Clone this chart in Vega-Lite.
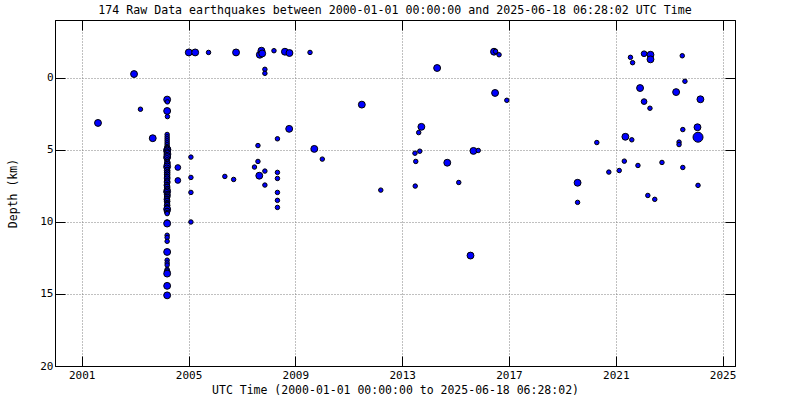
{
  "$schema": "https://vega.github.io/schema/vega-lite/v6.json",
  "width": 680,
  "height": 346,
  "autosize": {"type": "none"},
  "padding": {"left": 55, "top": 20, "right": 65, "bottom": 29},
  "background": "white",
  "title": {
    "text": "174 Raw Data earthquakes between 2000-01-01 00:00:00 and 2025-06-18 06:28:02 UTC Time",
    "font": "DejaVu Sans Mono",
    "fontSize": 11.6,
    "fontWeight": "normal",
    "color": "black",
    "anchor": "middle",
    "offset": 3
  },
  "config": {
    "view": {"stroke": "black", "strokeWidth": 1},
    "axis": {
      "labelFont": "DejaVu Sans Mono",
      "titleFont": "DejaVu Sans Mono",
      "labelFontSize": 11,
      "titleFontSize": 11.5,
      "titleFontWeight": "normal",
      "labelColor": "black",
      "titleColor": "black",
      "domainColor": "black",
      "tickColor": "black",
      "tickWidth": 1,
      "tickSize": -10,
      "gridColor": "#808080",
      "gridDash": [1, 2],
      "gridOpacity": 1
    }
  },
  "data": {
    "values": [
      {"year": 2001.61, "depth": 3.14, "mag": 1.9},
      {"year": 2002.96, "depth": -0.25, "mag": 1.9},
      {"year": 2003.2, "depth": 2.19, "mag": 0.8},
      {"year": 2003.66, "depth": 4.2, "mag": 1.9},
      {"year": 2004.2, "depth": 1.52, "mag": 1.9},
      {"year": 2004.21, "depth": 1.68, "mag": 0.8},
      {"year": 2004.2, "depth": 2.31, "mag": 1.9},
      {"year": 2004.21, "depth": 2.7, "mag": 0.8},
      {"year": 2004.2, "depth": 3.94, "mag": 0.8},
      {"year": 2004.2, "depth": 4.1, "mag": 0.8},
      {"year": 2004.2, "depth": 4.24, "mag": 0.8},
      {"year": 2004.2, "depth": 4.38, "mag": 0.8},
      {"year": 2004.2, "depth": 4.52, "mag": 0.8},
      {"year": 2004.2, "depth": 4.65, "mag": 0.8},
      {"year": 2004.2, "depth": 4.78, "mag": 0.8},
      {"year": 2004.2, "depth": 4.9, "mag": 1.3},
      {"year": 2004.21, "depth": 4.98, "mag": 1.9},
      {"year": 2004.2, "depth": 5.05, "mag": 1.9},
      {"year": 2004.19, "depth": 5.12, "mag": 1.3},
      {"year": 2004.2, "depth": 5.2, "mag": 1.3},
      {"year": 2004.21, "depth": 5.3, "mag": 1.9},
      {"year": 2004.2, "depth": 5.38, "mag": 1.3},
      {"year": 2004.2, "depth": 5.45, "mag": 0.8},
      {"year": 2004.2, "depth": 5.51, "mag": 1.9},
      {"year": 2004.19, "depth": 5.6, "mag": 1.3},
      {"year": 2004.2, "depth": 5.7, "mag": 0.8},
      {"year": 2004.2, "depth": 5.81, "mag": 0.8},
      {"year": 2004.21, "depth": 5.9, "mag": 1.3},
      {"year": 2004.2, "depth": 6.0, "mag": 1.3},
      {"year": 2004.2, "depth": 6.08, "mag": 0.8},
      {"year": 2004.2, "depth": 6.16, "mag": 1.9},
      {"year": 2004.19, "depth": 6.25, "mag": 1.3},
      {"year": 2004.2, "depth": 6.35, "mag": 0.8},
      {"year": 2004.2, "depth": 6.44, "mag": 1.3},
      {"year": 2004.21, "depth": 6.52, "mag": 0.8},
      {"year": 2004.2, "depth": 6.6, "mag": 1.3},
      {"year": 2004.2, "depth": 6.68, "mag": 0.8},
      {"year": 2004.2, "depth": 6.74, "mag": 1.3},
      {"year": 2004.19, "depth": 6.82, "mag": 0.8},
      {"year": 2004.2, "depth": 6.9, "mag": 1.3},
      {"year": 2004.2, "depth": 7.01, "mag": 1.3},
      {"year": 2004.21, "depth": 7.1, "mag": 0.8},
      {"year": 2004.2, "depth": 7.2, "mag": 1.3},
      {"year": 2004.2, "depth": 7.29, "mag": 1.3},
      {"year": 2004.2, "depth": 7.38, "mag": 0.8},
      {"year": 2004.19, "depth": 7.46, "mag": 1.3},
      {"year": 2004.2, "depth": 7.52, "mag": 0.8},
      {"year": 2004.2, "depth": 7.59, "mag": 1.3},
      {"year": 2004.21, "depth": 7.68, "mag": 0.8},
      {"year": 2004.2, "depth": 7.75, "mag": 1.3},
      {"year": 2004.2, "depth": 7.82, "mag": 0.8},
      {"year": 2004.2, "depth": 7.89, "mag": 1.9},
      {"year": 2004.19, "depth": 7.95, "mag": 1.3},
      {"year": 2004.2, "depth": 8.03, "mag": 0.8},
      {"year": 2004.2, "depth": 8.1, "mag": 1.3},
      {"year": 2004.21, "depth": 8.17, "mag": 1.3},
      {"year": 2004.2, "depth": 8.22, "mag": 0.8},
      {"year": 2004.2, "depth": 8.28, "mag": 1.3},
      {"year": 2004.2, "depth": 8.35, "mag": 0.8},
      {"year": 2004.19, "depth": 8.44, "mag": 1.3},
      {"year": 2004.2, "depth": 8.5, "mag": 0.8},
      {"year": 2004.2, "depth": 8.58, "mag": 1.3},
      {"year": 2004.2, "depth": 8.66, "mag": 0.8},
      {"year": 2004.21, "depth": 8.74, "mag": 0.8},
      {"year": 2004.2, "depth": 8.8, "mag": 0.8},
      {"year": 2004.2, "depth": 8.86, "mag": 1.3},
      {"year": 2004.2, "depth": 8.95, "mag": 0.8},
      {"year": 2004.2, "depth": 9.02, "mag": 0.8},
      {"year": 2004.2, "depth": 9.08, "mag": 1.3},
      {"year": 2004.2, "depth": 9.13, "mag": 1.9},
      {"year": 2004.2, "depth": 9.2, "mag": 0.8},
      {"year": 2004.2, "depth": 9.27, "mag": 1.3},
      {"year": 2004.2, "depth": 9.35, "mag": 0.8},
      {"year": 2004.2, "depth": 9.43, "mag": 0.8},
      {"year": 2004.2, "depth": 10.05, "mag": 1.3},
      {"year": 2004.2, "depth": 10.12, "mag": 1.9},
      {"year": 2004.2, "depth": 10.93, "mag": 0.8},
      {"year": 2004.2, "depth": 11.09, "mag": 0.8},
      {"year": 2004.2, "depth": 11.35, "mag": 0.8},
      {"year": 2004.2, "depth": 12.09, "mag": 1.9},
      {"year": 2004.2, "depth": 12.66, "mag": 0.8},
      {"year": 2004.2, "depth": 12.85, "mag": 0.8},
      {"year": 2004.2, "depth": 13.0, "mag": 0.8},
      {"year": 2004.2, "depth": 13.3, "mag": 0.8},
      {"year": 2004.2, "depth": 13.45, "mag": 1.3},
      {"year": 2004.2, "depth": 13.59, "mag": 1.9},
      {"year": 2004.2, "depth": 14.44, "mag": 1.9},
      {"year": 2004.2, "depth": 15.1, "mag": 1.9},
      {"year": 2004.6, "depth": 6.23, "mag": 1.3},
      {"year": 2004.6, "depth": 7.13, "mag": 1.3},
      {"year": 2005.01, "depth": -1.75, "mag": 1.9},
      {"year": 2005.09, "depth": 5.51, "mag": 0.8},
      {"year": 2005.09, "depth": 6.92, "mag": 0.8},
      {"year": 2005.09, "depth": 7.96, "mag": 0.8},
      {"year": 2005.09, "depth": 10.01, "mag": 0.8},
      {"year": 2005.25, "depth": -1.75, "mag": 1.9},
      {"year": 2005.75, "depth": -1.75, "mag": 0.8},
      {"year": 2006.36, "depth": 6.85, "mag": 0.8},
      {"year": 2006.69, "depth": 7.06, "mag": 0.8},
      {"year": 2006.78, "depth": -1.75, "mag": 1.9},
      {"year": 2007.47, "depth": 6.2, "mag": 0.8},
      {"year": 2007.6, "depth": 4.71, "mag": 0.8},
      {"year": 2007.6, "depth": 5.81, "mag": 0.8},
      {"year": 2007.65, "depth": 6.8, "mag": 1.9},
      {"year": 2007.67, "depth": -1.59, "mag": 1.9},
      {"year": 2007.73, "depth": -1.87, "mag": 1.9},
      {"year": 2007.76, "depth": -1.68, "mag": 1.9},
      {"year": 2007.86, "depth": -0.58, "mag": 0.8},
      {"year": 2007.86, "depth": -0.3, "mag": 0.8},
      {"year": 2007.86, "depth": 6.48, "mag": 0.8},
      {"year": 2007.86, "depth": 7.45, "mag": 0.8},
      {"year": 2008.2, "depth": -1.87, "mag": 0.8},
      {"year": 2008.33, "depth": 4.24, "mag": 0.8},
      {"year": 2008.33, "depth": 6.57, "mag": 0.8},
      {"year": 2008.33, "depth": 6.99, "mag": 0.8},
      {"year": 2008.33, "depth": 7.96, "mag": 0.8},
      {"year": 2008.33, "depth": 8.51, "mag": 0.8},
      {"year": 2008.33, "depth": 9.0, "mag": 0.8},
      {"year": 2008.61, "depth": -1.8, "mag": 1.9},
      {"year": 2008.77, "depth": 3.55, "mag": 1.9},
      {"year": 2008.78, "depth": -1.71, "mag": 1.9},
      {"year": 2009.55, "depth": -1.75, "mag": 0.8},
      {"year": 2009.71, "depth": 4.94, "mag": 1.9},
      {"year": 2010.01, "depth": 5.65, "mag": 0.8},
      {"year": 2011.49, "depth": 1.87, "mag": 1.9},
      {"year": 2012.2, "depth": 7.8, "mag": 0.8},
      {"year": 2013.48, "depth": 5.24, "mag": 0.8},
      {"year": 2013.49, "depth": 7.52, "mag": 0.8},
      {"year": 2013.51, "depth": 5.81, "mag": 0.8},
      {"year": 2013.62, "depth": 3.81, "mag": 0.8},
      {"year": 2013.66, "depth": 5.1, "mag": 0.8},
      {"year": 2013.72, "depth": 3.41, "mag": 1.9},
      {"year": 2014.31, "depth": -0.67, "mag": 1.9},
      {"year": 2014.69, "depth": 5.9, "mag": 1.9},
      {"year": 2015.12, "depth": 7.27, "mag": 0.8},
      {"year": 2015.56, "depth": 12.34, "mag": 1.9},
      {"year": 2015.67, "depth": 5.08, "mag": 1.9},
      {"year": 2015.85, "depth": 5.05, "mag": 0.8},
      {"year": 2016.44, "depth": -1.8, "mag": 1.9},
      {"year": 2016.5, "depth": -1.82, "mag": 0.8},
      {"year": 2016.63, "depth": -1.59, "mag": 0.8},
      {"year": 2016.48, "depth": 1.06, "mag": 1.9},
      {"year": 2016.92, "depth": 1.57, "mag": 0.8},
      {"year": 2019.57, "depth": 7.29, "mag": 1.9},
      {"year": 2019.57, "depth": 8.65, "mag": 0.8},
      {"year": 2020.29, "depth": 4.5, "mag": 0.8},
      {"year": 2020.74, "depth": 6.55, "mag": 0.8},
      {"year": 2021.13, "depth": 6.44, "mag": 0.8},
      {"year": 2021.32, "depth": 5.79, "mag": 0.8},
      {"year": 2021.36, "depth": 4.1, "mag": 1.9},
      {"year": 2021.55, "depth": -1.41, "mag": 0.8},
      {"year": 2021.6, "depth": 4.31, "mag": 0.8},
      {"year": 2021.63, "depth": -1.04, "mag": 0.8},
      {"year": 2021.83, "depth": 6.09, "mag": 0.8},
      {"year": 2021.91, "depth": 0.72, "mag": 1.9},
      {"year": 2022.06, "depth": -1.66, "mag": 1.3},
      {"year": 2022.06, "depth": 1.66, "mag": 1.3},
      {"year": 2022.2, "depth": 8.17, "mag": 0.8},
      {"year": 2022.28, "depth": 2.12, "mag": 0.8},
      {"year": 2022.3, "depth": -1.59, "mag": 1.9},
      {"year": 2022.3, "depth": -1.27, "mag": 1.9},
      {"year": 2022.46, "depth": 8.44, "mag": 0.8},
      {"year": 2022.73, "depth": 5.88, "mag": 0.8},
      {"year": 2023.26, "depth": 1.0, "mag": 1.9},
      {"year": 2023.37, "depth": 4.47, "mag": 0.8},
      {"year": 2023.37, "depth": 4.64, "mag": 0.8},
      {"year": 2023.49, "depth": -1.52, "mag": 0.8},
      {"year": 2023.51, "depth": 3.6, "mag": 0.8},
      {"year": 2023.51, "depth": 6.23, "mag": 0.8},
      {"year": 2023.59, "depth": 0.25, "mag": 0.8},
      {"year": 2024.06, "depth": 3.44, "mag": 1.9},
      {"year": 2024.08, "depth": 4.13, "mag": 4.0},
      {"year": 2024.08, "depth": 7.47, "mag": 0.8},
      {"year": 2024.17, "depth": 1.5, "mag": 1.9}
    ]
  },
  "layer": [
    {
      "mark": {"type": "point", "shape": "circle", "filled": true, "fill": "#0000ff", "stroke": "black", "strokeWidth": 1, "opacity": 1, "fillOpacity": 1, "strokeOpacity": 1},
      "encoding": {
        "x": {
          "field": "year", "type": "quantitative",
          "scale": {"domain": [2000, 2025.465], "nice": false, "zero": false},
          "axis": {"orient": "bottom", "values": [2001, 2005, 2009, 2013, 2017, 2021, 2025], "format": "d", "grid": true, "labelPadding": 13, "title": "UTC Time (2000-01-01 00:00:00 to 2025-06-18 06:28:02)", "titleY": 24, "titleBaseline": "middle"}
        },
        "y": {
          "field": "depth", "type": "quantitative",
          "scale": {"domain": [-4, 20], "reverse": true, "nice": false, "zero": false},
          "axis": {"orient": "left", "values": [0, 5, 10, 15, 20], "grid": true, "labelPadding": 12, "title": "Depth (km)", "titleX": -42, "titleY": 173, "titleAngle": -90, "titleBaseline": "middle", "titleAlign": "center"}
        },
        "size": {"field": "mag", "type": "quantitative", "scale": {"domain": [0, 4], "range": [0, 100]}, "legend": null}
      }
    },
    {
      "mark": {"type": "point", "opacity": 0},
      "encoding": {
        "x": {"field": "year", "type": "quantitative", "axis": {"orient": "top", "values": [2001, 2005, 2009, 2013, 2017, 2021, 2025], "labels": false, "grid": false, "title": null}},
        "y": {"field": "depth", "type": "quantitative", "axis": {"orient": "right", "values": [0, 5, 10, 15, 20], "labels": false, "grid": false, "title": null}}
      }
    }
  ],
  "resolve": {"axis": {"x": "independent", "y": "independent"}}
}
